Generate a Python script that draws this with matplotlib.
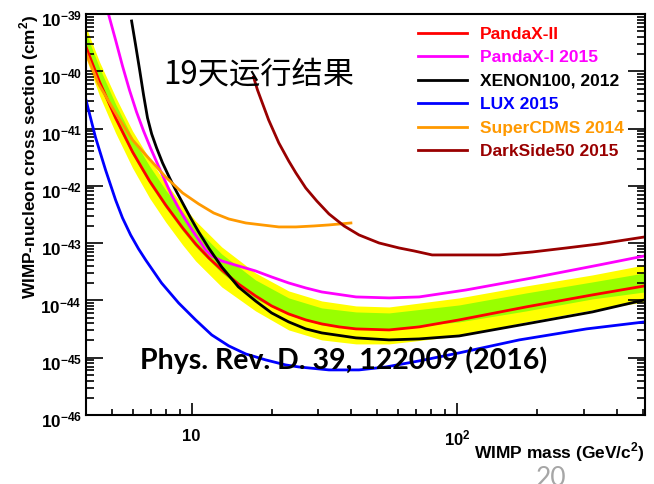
# PandaX-II 19-day run: spin-independent WIMP-nucleon limits
import numpy as np
import matplotlib
matplotlib.use("Agg")
import matplotlib.pyplot as plt
from matplotlib.ticker import FixedLocator, FuncFormatter, LogLocator, NullFormatter
from matplotlib.transforms import ScaledTranslation

plt.rcParams['mathtext.fontset'] = 'custom'
plt.rcParams['mathtext.rm'] = 'Liberation Sans:bold'
plt.rcParams['mathtext.bf'] = 'Liberation Sans:bold'
plt.rcParams['font.family'] = ['Liberation Sans', 'DejaVu Sans']

# ---- data: mass in GeV/c^2, cross sections as log10(cm^2) ----
band_x = [4.0, 4.5, 5.17, 5.99, 6.94, 7.98, 9.25, 10.35, 12.98, 17.4, 23.2, 30.9, 41.6, 55.4,
          101.7, 182, 323, 508]
yellow_hi = [-39.227, -39.838, -40.449, -41.042, -41.531, -41.949, -42.333, -42.613, -43.066,
             -43.520, -43.834, -44.009, -44.096, -44.114, -43.956, -43.747, -43.555, -43.380]
green_hi = [-39.332, -39.942, -40.571, -41.164, -41.653, -42.072, -42.456, -42.735, -43.189,
            -43.642, -43.956, -44.131, -44.201, -44.218, -44.079, -43.869, -43.677, -43.520]
green_lo = [-39.628, -40.239, -40.867, -41.461, -41.967, -42.386, -42.787, -43.066, -43.520,
            -43.974, -44.253, -44.428, -44.497, -44.497, -44.375, -44.183, -43.974, -43.852]
yellow_lo = [-39.768, -40.431, -41.077, -41.688, -42.211, -42.630, -43.031, -43.311, -43.764,
             -44.183, -44.515, -44.689, -44.759, -44.759, -44.620, -44.375, -44.166, -44.026]

pandax2_x = [4.0, 4.5, 5.17, 5.99, 6.94, 7.98, 9.25, 10.35, 11.6, 12.98, 15.0, 17.4, 20.0, 23.2,
             26.9, 30.9, 35.9, 41.6, 55.4, 71.9, 101.7, 182, 323, 508]
pandax2_y = [-39.576, -40.187, -40.815, -41.408, -41.914, -42.333, -42.735, -43.014, -43.258,
             -43.468, -43.712, -43.921, -44.096, -44.236, -44.340, -44.410, -44.462, -44.497,
             -44.515, -44.462, -44.340, -44.113, -43.904, -43.747]

pandax1_x = [4.86, 5.17, 5.49, 5.83, 6.20, 6.59, 7.00, 7.44, 7.91, 8.40, 8.93, 9.49, 10.09, 10.72,
             11.29, 11.9, 12.98, 15.0, 17.4, 20.0, 23.2, 26.9, 30.9, 41.6, 55.4, 71.9, 108.1,
             191.9, 343.3, 508]
pandax1_y = [-39.0, -39.454, -39.908, -40.326, -40.710, -41.042, -41.339, -41.618, -41.897,
             -42.159, -42.386, -42.595, -42.787, -42.962, -43.119, -43.223, -43.311, -43.398,
             -43.485, -43.590, -43.695, -43.782, -43.852, -43.939, -43.956, -43.939, -43.817,
             -43.607, -43.380, -43.223]

xenon_x = [5.94, 6.15, 6.37, 6.59, 6.82, 7.07, 7.38, 7.77, 8.26, 8.78, 9.33, 9.91, 10.63, 11.59,
           12.98, 15.0, 17.4, 20.0, 23.2, 26.9, 30.9, 41.6, 55.4, 71.9, 101.7, 182, 323, 508]
xenon_y = [-39.122, -39.541, -39.977, -40.414, -40.815, -41.094, -41.339, -41.600, -41.862,
           -42.106, -42.333, -42.560, -42.805, -43.084, -43.415, -43.764, -44.009, -44.218,
           -44.375, -44.497, -44.567, -44.654, -44.689, -44.672, -44.620, -44.410, -44.201, -43.991]

lux_x = [4.0, 4.34, 4.74, 5.17, 5.49, 5.89, 6.31, 6.71, 7.70, 8.93, 10.35, 11.9, 13.8, 15.99,
         19.0, 22.6, 25.3, 32.9, 42.7, 54.0, 71.9, 101.7, 171.4, 306.9, 508]
lux_y = [-40.501, -41.147, -41.723, -42.246, -42.560, -42.857, -43.101, -43.293, -43.695,
         -44.044, -44.340, -44.602, -44.794, -44.934, -45.038, -45.126, -45.161, -45.213,
         -45.213, -45.161, -45.056, -44.916, -44.689, -44.497, -44.375]

cdms_x = [4.0, 4.46, 5.17, 5.99, 6.88, 7.98, 9.25, 10.63, 12.1, 13.8, 16.0, 18.4, 21.3, 24.7,
          28.9, 32.9, 39.8]
cdms_y = [-39.681, -40.222, -40.728, -41.199, -41.513, -41.845, -42.124, -42.316, -42.473,
          -42.578, -42.648, -42.682, -42.717, -42.717, -42.700, -42.682, -42.648]

ds_x = [17.1, 17.7, 18.4, 19.5, 21.3, 23.2, 24.7, 26.9, 29.6, 32.9, 37.5, 42.7, 50.8, 60.4,
        68.8, 80.5, 101.7, 144, 192, 258, 343, 508]
ds_y = [-40.100, -40.326, -40.536, -40.850, -41.251, -41.565, -41.775, -42.037, -42.264,
        -42.490, -42.700, -42.857, -42.997, -43.084, -43.136, -43.206, -43.206, -43.206,
        -43.154, -43.084, -43.014, -42.892]


def pw(v):
    return 10.0 ** np.asarray(v)


fig = plt.figure(figsize=(6.54, 4.84), dpi=100)
ax = fig.add_axes([86 / 654, 69 / 484, 559 / 654, 401 / 484])
ax.set_xscale('log')
ax.set_yscale('log')

ax.fill_between(band_x, pw(yellow_lo), pw(yellow_hi), color='#ffff00', lw=0)
ax.fill_between(band_x, pw(green_lo), pw(green_hi), color='#99ff00', lw=0)

lw = 2.0
ax.plot(pandax2_x, pw(pandax2_y), color='#ff0000', lw=lw, label='PandaX-II')
ax.plot(pandax1_x, pw(pandax1_y), color='#ff00ff', lw=lw, label='PandaX-I 2015')
ax.plot(xenon_x, pw(xenon_y), color='black', lw=lw, label='XENON100, 2012')
ax.plot(lux_x, pw(lux_y), color='#0000ff', lw=lw, label='LUX 2015')
ax.plot(cdms_x, pw(cdms_y), color='#ff9900', lw=lw, label='SuperCDMS 2014')
ax.plot(ds_x, pw(ds_y), color='#990000', lw=lw, label='DarkSide50 2015')

ax.set_xlim(4, 510)
ax.set_ylim(1e-46, 1e-39)

# axis ticks, ROOT style
ax.xaxis.set_major_locator(FixedLocator([10, 100]))
ax.xaxis.set_major_formatter(FuncFormatter(lambda v, p: '10' if v < 50 else r'$\mathbf{10^{2}}$'))
ax.xaxis.set_minor_locator(LogLocator(base=10, subs=np.arange(2, 10), numticks=20))
ax.xaxis.set_minor_formatter(NullFormatter())
ax.yaxis.set_major_locator(FixedLocator(pw(np.arange(-46, -38))))
ax.yaxis.set_major_formatter(FuncFormatter(lambda v, p: r'$\mathbf{10^{%d}}$' % round(np.log10(v))))
ax.yaxis.set_minor_locator(LogLocator(base=10, subs=np.arange(2, 10), numticks=20))
ax.yaxis.set_minor_formatter(NullFormatter())

ax.tick_params(which='both', direction='in', right=True, top=False, width=1.2)
ax.tick_params(axis='x', which='major', length=9, pad=10, labelsize=12)
ax.tick_params(axis='x', which='minor', length=4.5)
ax.tick_params(axis='y', which='major', length=12, pad=3, labelsize=12.3)
ax.tick_params(axis='y', which='minor', length=6)
shift = ScaledTranslation(0, -3 / 72, fig.dpi_scale_trans)
for lab in ax.get_yticklabels():
    lab.set_transform(lab.get_transform() + shift)
for lab in ax.get_xticklabels() + ax.get_yticklabels():
    lab.set_fontweight('bold')
for s in ax.spines.values():
    s.set_linewidth(1.5)

leg = ax.legend(loc='upper left', bbox_to_anchor=(0.594, 0.968), frameon=False,
                handlelength=2.8, handletextpad=0.75, labelspacing=0.48, borderpad=0,
                borderaxespad=0, labelcolor='linecolor',
                prop=dict(family='Liberation Sans', weight='bold', size=12.5))

fig.text(29 / 654, 1 - 14 / 484, r'WIMP-nucleon cross section (cm$^{\mathbf{2}}$)', rotation=90,
         ha='center', va='top', fontsize=12.4, fontweight='bold')
fig.text(645 / 654, 1 - 452 / 484, r'WIMP mass (GeV/c$^{\mathbf{2}}$)', ha='right', va='center',
         fontsize=12.5, fontweight='bold')

fig.text(163 / 654, 1 - 75 / 484, '19天运行结果', ha='left', va='center', fontsize=22.5,
         family=['Noto Sans CJK SC', 'DejaVu Sans'])
fig.text(140 / 654, 1 - 360 / 484, 'Phys. Rev. D. 39, 122009 (2016)', ha='left', va='center',
         fontsize=20.5, fontweight='bold', family=['Lato', 'DejaVu Sans'])
fig.text(551 / 654, 1 - 466 / 484, '20', ha='center', va='top', fontsize=19, color='#a6a6a6',
         family=['Lato', 'DejaVu Sans'])

fig.savefig('out.png', dpi=100)
